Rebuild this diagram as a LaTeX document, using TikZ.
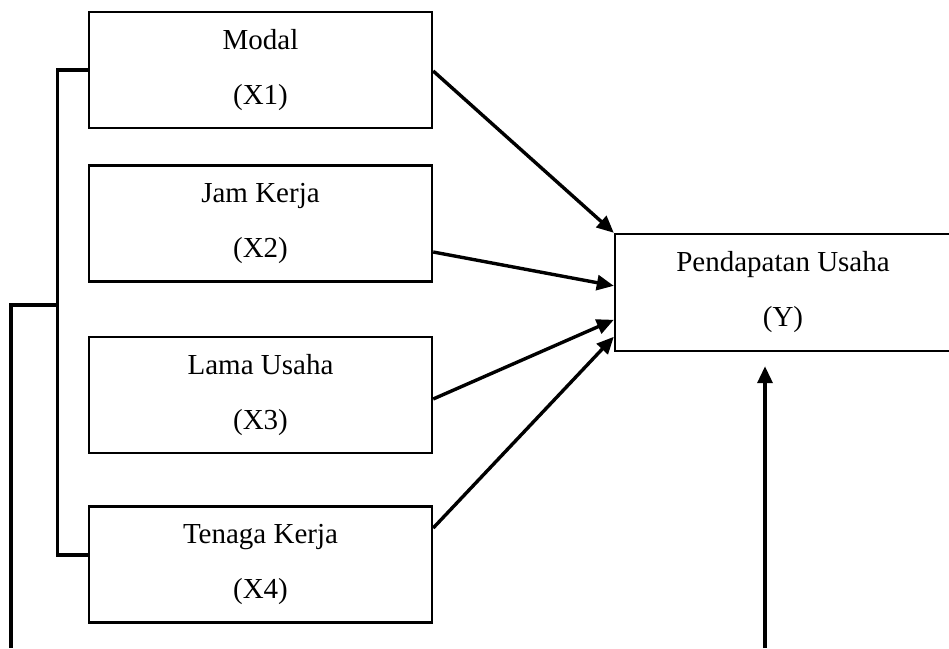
\documentclass[tikz,border=0pt]{standalone}
\usepackage{fontspec}
\setmainfont{Liberation Serif}
\usetikzlibrary{arrows.meta}
\begin{document}
\begin{tikzpicture}[x=1pt,y=-1pt,
  varbox/.style={draw,line width=2.4pt,rectangle,minimum width=343pt,minimum height=116pt,
    align=center,inner sep=0pt,font=\fontsize{29}{55}\selectfont},
  conn/.style={line width=3.4pt},
  arr/.style={line width=3.4pt,-{Triangle[length=17pt,width=15pt]}}]
\useasboundingbox (0,0) rectangle (949,648);
\node[varbox] (m) at (260.5,70) {Modal\\(X1)};
\node[varbox] (j) at (260.5,223.5) {Jam Kerja\\(X2)};
\node[varbox] (l) at (260.5,395) {Lama Usaha\\(X3)};
\node[varbox] (t) at (260.5,564.5) {Tenaga Kerja\\(X4)};
\node[varbox,minimum width=336pt,minimum height=117pt] (p) at (783,292.5) {Pendapatan Usaha\\(Y)};
% arrows into Y
\draw[arr] ([yshift=-1pt]m.east) -- (p.north west);
\draw[arr] ([yshift=-28.5pt]j.east) -- ([yshift=-53pt]p.north west);
\draw[arr] ([yshift=-4pt]l.east) -- ([yshift=-87pt]p.north west);
\draw[arr] ([yshift=36.5pt]t.east) -- ([yshift=-104pt]p.north west);
% bracket
\coordinate (bt) at (57.7,70);
\coordinate (bb) at (57.7,555);
\coordinate (bm) at (57.7,305);
\coordinate (lb) at (11,648);
\coordinate (lt) at (11,305);
\draw[conn,line join=miter] (m.west) -- (bt) -- (bb) -- ([yshift=9.5pt]t.west);
\draw[conn,line join=miter] (lb) -- (lt) -- (bm);
% bottom arrow into Y
\coordinate (vb) at (765,648);
\draw[arr] (vb) -- ([xshift=-18pt,yshift=-14pt]p.south);
\end{tikzpicture}
\end{document}
